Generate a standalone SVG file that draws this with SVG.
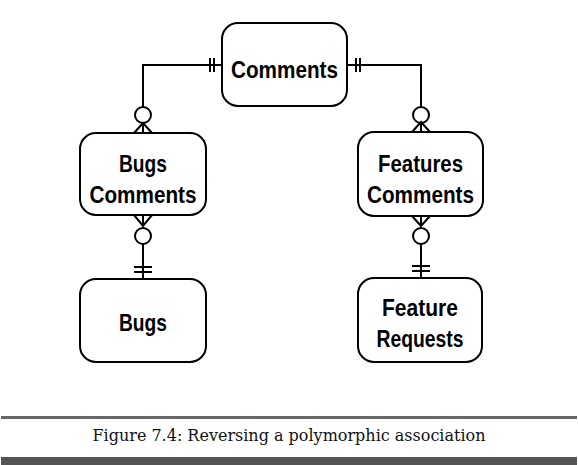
<svg xmlns="http://www.w3.org/2000/svg" width="578" height="465" viewBox="0 0 578 465">
<style>
.box{fill:#fff;stroke:#000;stroke-width:2}
.lbl{font-family:"Liberation Sans",Arial,sans-serif;font-weight:bold;font-size:24px;fill:#000;text-anchor:middle}
.ln{fill:none;stroke:#000;stroke-width:2}
.cir{fill:#fff;stroke:#000;stroke-width:2}
.cap{font-family:"DejaVu Serif","Liberation Serif",serif;font-size:16px;fill:#111;text-anchor:middle}
</style>
<rect width="578" height="465" fill="#fff"/>
<g id="connectors">
  <path class="ln" d="M222,65 H143 V107"/>
  <path class="ln" d="M210,58 V72 M214,58 V72"/>
  <circle class="cir" cx="143" cy="115" r="8"/>
  <path class="ln" d="M134,133 L143,123 L152,133 M143,123 V133"/>
  <path class="ln" d="M347,65 H421 V107"/>
  <path class="ln" d="M356,58 V72 M360,58 V72"/>
  <circle class="cir" cx="421" cy="115" r="8"/>
  <path class="ln" d="M412,132 L421,122 L430,132 M421,122 V132"/>
  <path class="ln" d="M134,215 L143,226 L152,215 M143,215 V226"/>
  <circle class="cir" cx="143" cy="236" r="8"/>
  <path class="ln" d="M143,244 V279"/>
  <path class="ln" d="M134,267 H152 M134,272 H152"/>
  <path class="ln" d="M412,216 L421,226 L430,216 M421,216 V226"/>
  <circle class="cir" cx="421" cy="236" r="8"/>
  <path class="ln" d="M421,244 V278"/>
  <path class="ln" d="M412,266 H430 M412,271 H430"/>
</g>
<g id="comments">
  <rect class="box" x="222" y="23" width="125" height="83" rx="16"/>
  <text class="lbl" x="284.5" y="78" textLength="107" lengthAdjust="spacingAndGlyphs">Comments</text>
</g>
<g id="bugs-comments">
  <rect class="box" x="80" y="133" width="126" height="82" rx="16"/>
  <text class="lbl" x="143" y="172" textLength="48" lengthAdjust="spacingAndGlyphs">Bugs</text>
  <text class="lbl" x="143" y="203" textLength="107" lengthAdjust="spacingAndGlyphs">Comments</text>
</g>
<g id="features-comments">
  <rect class="box" x="358" y="132" width="125" height="84" rx="16"/>
  <text class="lbl" x="420.5" y="172" textLength="85" lengthAdjust="spacingAndGlyphs">Features</text>
  <text class="lbl" x="420.5" y="203" textLength="107" lengthAdjust="spacingAndGlyphs">Comments</text>
</g>
<g id="bugs">
  <rect class="box" x="80" y="279" width="126" height="83" rx="16"/>
  <text class="lbl" x="143" y="331" textLength="48" lengthAdjust="spacingAndGlyphs">Bugs</text>
</g>
<g id="feature-requests">
  <rect class="box" x="358" y="278" width="124" height="84" rx="16"/>
  <text class="lbl" x="420" y="316" textLength="76" lengthAdjust="spacingAndGlyphs">Feature</text>
  <text class="lbl" x="420" y="347" textLength="87" lengthAdjust="spacingAndGlyphs">Requests</text>
</g>
<rect x="1" y="416" width="576" height="3" fill="#666"/>
<text class="cap" x="289" y="441">Figure 7.4: Reversing a polymorphic association</text>
<rect x="1" y="457" width="576" height="8" fill="#555"/>
</svg>
